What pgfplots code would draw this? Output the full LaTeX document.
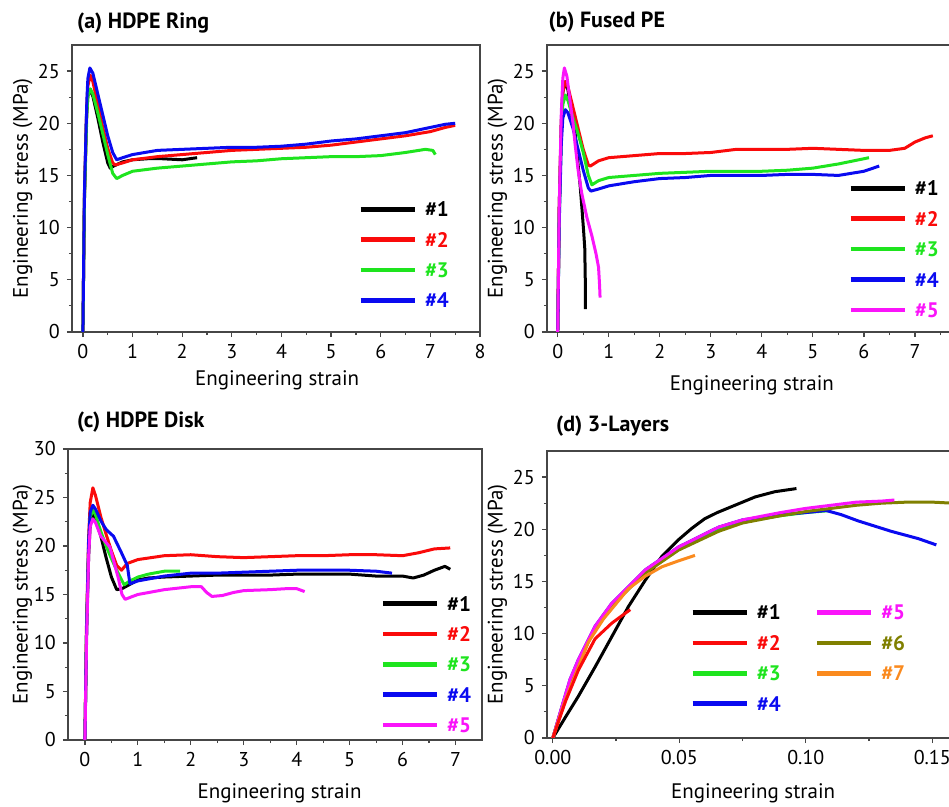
\documentclass[border=0pt]{standalone}
\usepackage{pgfplots}
\pgfplotsset{compat=1.18}
\usepackage{fontspec}
\setmainfont{PT Sans}

\definecolor{cblack}{RGB}{0,0,0}
\definecolor{cred}{RGB}{250,10,10}
\definecolor{cgreen}{RGB}{30,228,30}
\definecolor{cblue}{RGB}{10,10,240}
\definecolor{cmag}{RGB}{250,20,250}
\definecolor{colive}{RGB}{128,128,0}
\definecolor{corange}{RGB}{250,138,30}
\definecolor{axgray}{RGB}{70,70,70}

\pgfplotsset{
  panel/.style={
    scale only axis,
    axis line style={axgray, line width=0.6pt},
    every tick/.style={axgray, line width=0.6pt},
    tick align=outside,
    tick pos=left,
    major tick length=2.6pt,
    minor tick length=1.6pt,
    minor tick num=1,
    ymin=0,
    /pgf/number format/assume math mode=true,
    tick label style={font=\fontsize{10}{12}\selectfont},
    label style={font=\fontsize{10.5}{12}\selectfont},
    ylabel={Engineering stress (MPa)},
    xlabel={Engineering strain},
    legend cell align=left,
    legend image code/.code={\draw[##1,line width=2.3pt] (0pt,0pt) -- (27pt,0pt);},
    legend style={draw=none, fill=none, inner sep=0pt, row sep=5.7pt,
      nodes={inner sep=1pt, text height=7.5pt, text depth=0pt,
        font=\bfseries\fontsize{10.5}{12}\selectfont},
      /tikz/every odd column/.style={column sep=3pt}},
  },
  crv/.style={line width=1.5pt, line join=round, forget plot},
}

\begin{document}
\begin{tikzpicture}
\useasboundingbox (0,0) rectangle (474.5pt,403.5pt);

% (a) HDPE Ring
\node[anchor=west, font=\bfseries\fontsize{11}{13}\selectfont] at (35pt,392pt) {(a) HDPE Ring};
\begin{axis}[panel, at={(36pt,237.5pt)}, anchor=south west,
  width=204pt, height=143.5pt,
  xmin=-0.22, xmax=8, ymax=27.5,
  xtick={0,1,...,8}, ytick={0,5,...,25},
  xlabel style={at={(axis description cs:0.503,-0.167)}, anchor=center},
  ylabel style={at={(axis description cs:-0.121,0.5)}, anchor=center},
  legend style={at={(0.701,0.462)}, anchor=north west}]
\addplot[crv, cblack] coordinates {(0,0) (0.03,12.5) (0.07,20.5) (0.1,22.6) (0.14,23.2) (0.2,22.6) (0.3,20.5) (0.4,18.2) (0.5,16.2) (0.55,15.7) (0.62,15.9) (0.8,16.3) (1,16.5) (1.3,16.6) (1.6,16.6) (2,16.5) (2.3,16.7)};
\addplot[crv, cred] coordinates {(0,0) (0.03,13) (0.08,21.8) (0.1,23.6) (0.15,24.6) (0.2,24.0) (0.3,21.8) (0.4,19.6) (0.5,17.6) (0.6,16.2) (0.65,16.0) (0.8,16.2) (1,16.5) (1.5,16.8) (2,17.0) (2.5,17.2) (3,17.4) (3.5,17.5) (4,17.6) (4.5,17.7) (5,17.9) (5.5,18.2) (6,18.5) (6.5,18.8) (7,19.2) (7.3,19.6) (7.5,19.8)};
\addplot[crv, cgreen] coordinates {(0,0) (0.03,12.5) (0.08,21) (0.1,22.6) (0.15,23.3) (0.2,22.8) (0.3,21) (0.4,19) (0.5,17) (0.6,15.2) (0.68,14.7) (0.8,15.0) (1,15.4) (1.5,15.7) (2,15.9) (2.5,16.1) (3,16.3) (3.5,16.4) (4,16.6) (4.5,16.7) (5,16.8) (5.5,16.8) (6,16.9) (6.5,17.2) (6.9,17.5) (7.05,17.4) (7.1,17.0)};
\addplot[crv, cblue] coordinates {(0,0) (0.03,13.3) (0.08,22.3) (0.1,24.3) (0.14,25.3) (0.2,24.8) (0.3,22.8) (0.4,20.8) (0.5,18.8) (0.6,17.2) (0.68,16.5) (0.8,16.7) (1,17.0) (1.5,17.4) (2,17.5) (2.5,17.6) (3,17.7) (3.5,17.7) (4,17.8) (4.5,18.0) (5,18.3) (5.5,18.5) (6,18.8) (6.5,19.1) (7,19.6) (7.3,19.9) (7.5,20.0)};
\addlegendimage{cblack}\addlegendentry{\textcolor{cblack}{\#1}}
\addlegendimage{cred}\addlegendentry{\textcolor{cred}{\#2}}
\addlegendimage{cgreen}\addlegendentry{\textcolor{cgreen}{\#3}}
\addlegendimage{cblue}\addlegendentry{\textcolor{cblue}{\#4}}
\end{axis}

% (b) Fused PE
\node[anchor=west, font=\bfseries\fontsize{11}{13}\selectfont] at (270.8pt,392.6pt) {(b) Fused PE};
\begin{axis}[panel, at={(273.5pt,237.5pt)}, anchor=south west,
  width=209.5pt, height=143.5pt,
  xmin=-0.21, xmax=8, ymax=27.5,
  xtick={0,1,...,7}, ytick={0,5,...,25},
  minor xtick={0.5,1.5,...,7.5},
  xlabel style={at={(axis description cs:0.489,-0.185)}, anchor=center},
  ylabel style={at={(axis description cs:-0.118,0.5)}, anchor=center},
  legend style={at={(0.718,0.535)}, anchor=north west}]
\addplot[crv, cblack] coordinates {(0,0) (0.03,12) (0.07,20) (0.1,23) (0.15,24.0) (0.2,23.2) (0.25,21.5) (0.3,19.8) (0.34,19.1) (0.39,16.5) (0.44,14) (0.48,11.5) (0.51,9.5) (0.53,8) (0.54,5) (0.54,2.2)};
\addplot[crv, cred] coordinates {(0,0) (0.03,12) (0.07,20) (0.1,23) (0.15,24) (0.2,23.5) (0.3,21.5) (0.4,19.5) (0.5,17.5) (0.6,16) (0.64,15.9) (0.8,16.4) (1,16.7) (1.5,16.9) (2,17.1) (2.5,17.1) (3,17.2) (3.5,17.5) (4,17.5) (4.5,17.5) (5,17.6) (5.5,17.5) (6,17.4) (6.5,17.4) (6.8,17.6) (7,18.2) (7.2,18.6) (7.35,18.8)};
\addplot[crv, cgreen] coordinates {(0,0) (0.03,11) (0.07,19) (0.1,21.8) (0.15,22.7) (0.2,22.2) (0.3,20.5) (0.4,19) (0.5,17.2) (0.6,15) (0.67,14.1) (0.8,14.5) (1,14.8) (1.5,15.0) (2,15.2) (2.5,15.3) (3,15.4) (3.5,15.4) (4,15.4) (4.5,15.5) (5,15.7) (5.5,16.1) (5.8,16.4) (6.1,16.7)};
\addplot[crv, cblue] coordinates {(0,0) (0.03,10.5) (0.07,18) (0.1,20.5) (0.15,21.3) (0.2,21) (0.3,19.5) (0.4,17.5) (0.5,15.5) (0.6,13.8) (0.65,13.5) (0.8,13.7) (1,14.0) (1.5,14.4) (2,14.7) (2.5,14.8) (3,15.0) (3.5,15.0) (4,15.0) (4.5,15.1) (5,15.1) (5.5,15.0) (6,15.4) (6.3,15.9)};
\addplot[crv, cmag] coordinates {(0,0) (0.03,12) (0.07,21) (0.1,24.3) (0.13,25.3) (0.18,24.5) (0.25,21.8) (0.3,20) (0.34,18) (0.4,15.5) (0.47,13.3) (0.57,11) (0.67,9.2) (0.75,7.5) (0.8,6.2) (0.82,4.5) (0.83,3.3)};
\addlegendimage{cblack}\addlegendentry{\textcolor{cblack}{\#1}}
\addlegendimage{cred}\addlegendentry{\textcolor{cred}{\#2}}
\addlegendimage{cgreen}\addlegendentry{\textcolor{cgreen}{\#3}}
\addlegendimage{cblue}\addlegendentry{\textcolor{cblue}{\#4}}
\addlegendimage{cmag}\addlegendentry{\textcolor{cmag}{\#5}}
\end{axis}

% (c) HDPE Disk
\node[anchor=west, font=\bfseries\fontsize{11}{13}\selectfont] at (35pt,192.6pt) {(c) HDPE Disk};
\begin{axis}[panel, at={(34pt,33.5pt)}, anchor=south west,
  width=207pt, height=145.5pt,
  xmin=-0.32, xmax=7.5, ymax=30,
  xtick={0,1,...,7}, ytick={0,5,...,30},
  xlabel style={at={(axis description cs:0.511,-0.182)}, anchor=center},
  ylabel style={at={(axis description cs:-0.11,0.5)}, anchor=center},
  legend style={at={(0.754,0.503)}, anchor=north west}]
\addplot[crv, cblack] coordinates {(0,0) (0.03,11) (0.07,19) (0.1,22.3) (0.15,23.3) (0.2,22.8) (0.3,21) (0.4,18.8) (0.5,16.8) (0.6,15.5) (0.7,15.6) (0.8,15.9) (1,16.5) (1.2,16.7) (1.5,16.8) (2,16.9) (2.5,17.0) (3,17.0) (3.5,17.0) (4,17.1) (4.5,17.1) (5,17.1) (5.5,16.9) (6,16.9) (6.2,16.7) (6.4,17.0) (6.6,17.5) (6.8,17.9) (6.9,17.6)};
\addplot[crv, cred] coordinates {(0,0) (0.03,12) (0.07,21) (0.1,24.5) (0.15,26.0) (0.2,25.2) (0.3,23) (0.4,21.2) (0.5,19.5) (0.6,18) (0.69,17.5) (0.8,18.2) (1,18.6) (1.5,19.0) (2,19.1) (2.5,18.9) (3,18.8) (3.5,18.9) (4,19.0) (4.5,19.0) (5,19.1) (5.5,19.1) (6,19.0) (6.3,19.3) (6.6,19.7) (6.9,19.8)};
\addplot[crv, cgreen] coordinates {(0,0) (0.03,11) (0.07,20) (0.1,23) (0.15,23.7) (0.2,23.2) (0.3,21.5) (0.4,20) (0.5,18.7) (0.6,17.5) (0.74,16.0) (0.85,16.4) (1,16.8) (1.2,17.1) (1.5,17.4) (1.8,17.4)};
\addplot[crv, cblue] coordinates {(0,0) (0.03,11) (0.07,20.5) (0.1,23.5) (0.15,24.2) (0.2,23.8) (0.3,22.6) (0.4,21.7) (0.54,21) (0.69,19.3) (0.8,18) (0.85,16.1) (1,16.4) (1.5,16.9) (2,17.2) (2.5,17.2) (3,17.3) (3.5,17.4) (4,17.5) (4.5,17.5) (5,17.5) (5.5,17.4) (5.8,17.2)};
\addplot[crv, cmag] coordinates {(0,0) (0.03,10) (0.07,19) (0.1,22) (0.15,22.8) (0.2,22.4) (0.3,21) (0.47,19.9) (0.55,18.3) (0.63,16.7) (0.7,15) (0.76,14.5) (0.9,14.8) (1,15.0) (1.5,15.5) (2,15.8) (2.2,15.8) (2.3,15.2) (2.4,14.8) (2.6,14.9) (2.8,15.2) (3,15.4) (3.5,15.5) (3.8,15.6) (4,15.6) (4.15,15.3)};
\addlegendimage{cblack}\addlegendentry{\textcolor{cblack}{\#1}}
\addlegendimage{cred}\addlegendentry{\textcolor{cred}{\#2}}
\addlegendimage{cgreen}\addlegendentry{\textcolor{cgreen}{\#3}}
\addlegendimage{cblue}\addlegendentry{\textcolor{cblue}{\#4}}
\addlegendimage{cmag}\addlegendentry{\textcolor{cmag}{\#5}}
\end{axis}

% (d) 3-Layers
\node[anchor=west, font=\bfseries\fontsize{11}{13}\selectfont] at (274.5pt,190.6pt) {(d) 3-Layers};
\begin{axis}[panel, at={(273.5pt,34.5pt)}, anchor=south west,
  width=205.3pt, height=143.5pt,
  xmin=-0.0023, xmax=0.16, ymax=27.5,
  xtick={0,0.05,0.10,0.15}, ytick={0,5,...,25},
  xticklabel style={/pgf/number format/.cd, fixed, fixed zerofill, precision=2},
  scaled x ticks=false,
  xlabel style={at={(axis description cs:0.502,-0.192)}, anchor=center},
  ylabel style={at={(axis description cs:-0.1205,0.5)}, anchor=center},
  legend columns=2,
  legend style={at={(0.348,0.472)}, anchor=north west,
    /tikz/column 2/.style={column sep=16pt}}]
\addplot[crv, cblack] coordinates {(0,0) (0.005,2) (0.0101,4.0) (0.0167,6.8) (0.0233,9.7) (0.0299,12.6) (0.0365,15.1) (0.0431,17.4) (0.0497,19.0) (0.055,20.1) (0.06,21.0) (0.065,21.6) (0.07,22.1) (0.075,22.6) (0.08,23.1) (0.0878,23.6) (0.0963,23.9)};
\addplot[crv, cgreen] coordinates {(0,0) (0.0036,2.9) (0.0068,5.4) (0.0101,7.3) (0.0167,10.5) (0.0233,12.7) (0.0365,15.9) (0.0497,18.1) (0.0655,19.9) (0.075,20.7) (0.09,21.3) (0.1,21.6) (0.11,21.8)};
\addplot[crv, cblue] coordinates {(0,0) (0.0036,3.0) (0.0068,5.6) (0.0101,7.5) (0.0167,10.7) (0.0233,12.9) (0.0365,16.1) (0.0497,18.3) (0.0655,20.2) (0.075,20.9) (0.09,21.4) (0.1,21.6) (0.108,21.8) (0.114,21.4) (0.1207,20.8) (0.1338,19.8) (0.1445,19.1) (0.1516,18.5)};
\addplot[crv, colive] coordinates {(0,0) (0.0036,2.9) (0.0068,5.4) (0.0101,7.3) (0.0167,10.5) (0.0233,12.7) (0.0365,15.8) (0.0497,18.0) (0.0655,19.8) (0.075,20.6) (0.09,21.3) (0.1,21.7) (0.11,22.0) (0.12,22.3) (0.13,22.5) (0.14,22.6) (0.15,22.6) (0.158,22.5)};
\addplot[crv, cmag] coordinates {(0,0) (0.0036,3.0) (0.0068,5.6) (0.0101,7.5) (0.0167,10.7) (0.0233,12.9) (0.0365,16.1) (0.0497,18.3) (0.0655,20.2) (0.075,20.9) (0.09,21.6) (0.1,22.0) (0.11,22.3) (0.12,22.6) (0.13,22.7) (0.135,22.8)};
\addplot[crv, corange] coordinates {(0,0) (0.0049,3.6) (0.0101,6.8) (0.0141,9.2) (0.02,11.4) (0.0299,14.3) (0.0365,15.5) (0.0431,16.4) (0.05,17.0) (0.0562,17.5)};
\addplot[crv, cred] coordinates {(0,0) (0.005,3.5) (0.0101,6.5) (0.0167,9.5) (0.0233,11.0) (0.0306,12.3)};
\addlegendimage{cblack}\addlegendentry{\textcolor{cblack}{\#1}}
\addlegendimage{cmag}\addlegendentry{\textcolor{cmag}{\#5}}
\addlegendimage{cred}\addlegendentry{\textcolor{cred}{\#2}}
\addlegendimage{colive}\addlegendentry{\textcolor{colive}{\#6}}
\addlegendimage{cgreen}\addlegendentry{\textcolor{cgreen}{\#3}}
\addlegendimage{corange}\addlegendentry{\textcolor{corange}{\#7}}
\addlegendimage{cblue}\addlegendentry{\textcolor{cblue}{\#4}}
\end{axis}
\end{tikzpicture}
\end{document}
